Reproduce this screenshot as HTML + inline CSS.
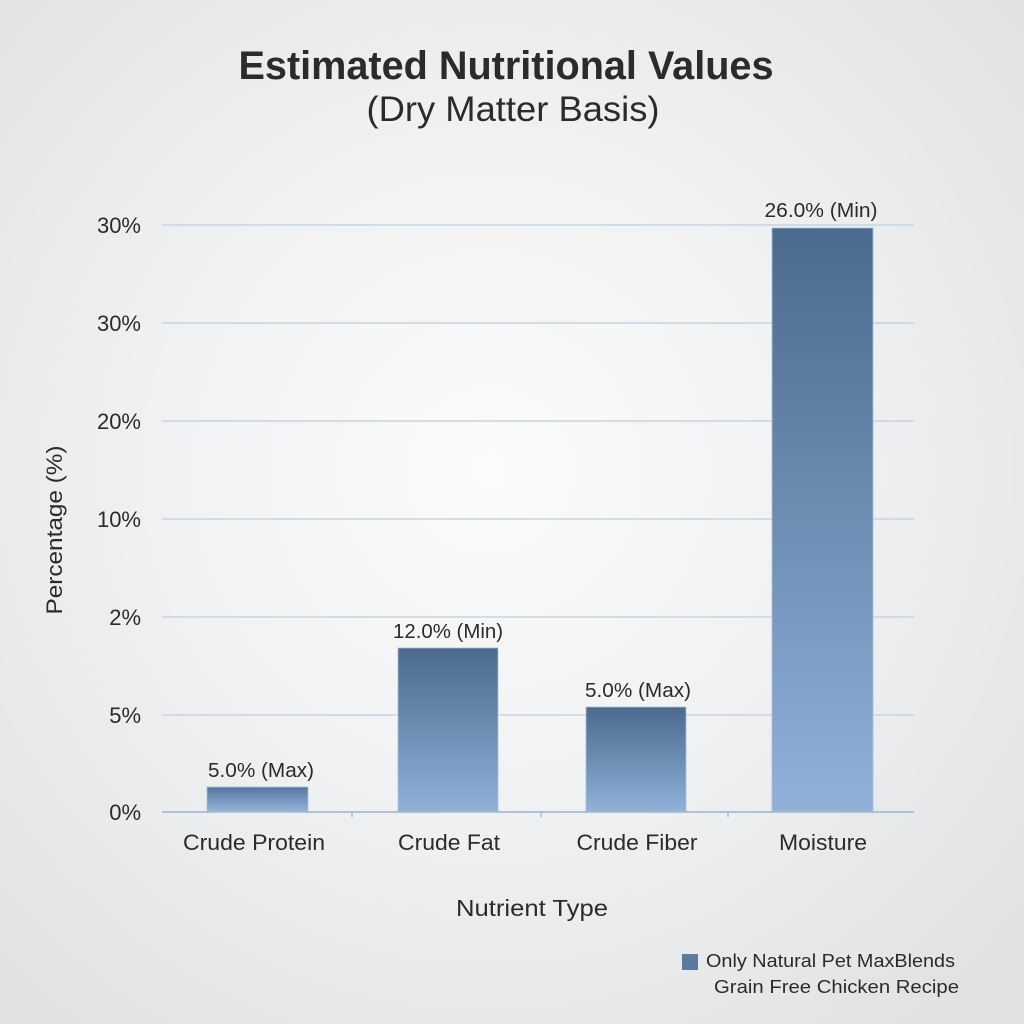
<!DOCTYPE html>
<html>
<head>
<meta charset="utf-8">
<style>
  html,body{margin:0;padding:0;}
  body{width:1024px;height:1024px;overflow:hidden;}
  svg{display:block;}
  text{font-family:"Liberation Sans", Arial, sans-serif;fill:#2b2b2b;}
</style>
</head>
<body>
<svg width="1024" height="1024" viewBox="0 0 1024 1024" xmlns="http://www.w3.org/2000/svg">
  <defs>
    <radialGradient id="bg" cx="490" cy="470" r="700" gradientUnits="userSpaceOnUse">
      <stop offset="0" stop-color="#fbfbfb"/>
      <stop offset="0.45" stop-color="#f1f2f3"/>
      <stop offset="1" stop-color="#e0e2e4"/>
    </radialGradient>
    <linearGradient id="bar" x1="0" y1="0" x2="0" y2="1">
      <stop offset="0" stop-color="#4a6a8e"/>
      <stop offset="1" stop-color="#90b2d8"/>
    </linearGradient>
    <linearGradient id="barS" x1="0" y1="0" x2="0" y2="1">
      <stop offset="0" stop-color="#55779e"/>
      <stop offset="1" stop-color="#94b5da"/>
    </linearGradient>
  </defs>
  <rect x="0" y="0" width="1024" height="1024" fill="url(#bg)"/>

  <!-- Title -->
  <text x="506" y="79" font-size="40" font-weight="bold" text-anchor="middle" textLength="535" lengthAdjust="spacingAndGlyphs" fill="#262626">Estimated Nutritional Values</text>
  <text x="513" y="121" font-size="35" text-anchor="middle" textLength="293" lengthAdjust="spacingAndGlyphs" fill="#2b2b2b">(Dry Matter Basis)</text>

  <!-- Gridlines -->
  <g stroke="#c8d4e1" stroke-width="1.5">
    <line x1="162" y1="225" x2="914" y2="225"/>
    <line x1="162" y1="323" x2="914" y2="323"/>
    <line x1="162" y1="421" x2="914" y2="421"/>
    <line x1="162" y1="519" x2="914" y2="519"/>
    <line x1="162" y1="617" x2="914" y2="617"/>
    <line x1="162" y1="715" x2="914" y2="715"/>
  </g>

  <!-- Y tick labels -->
  <g font-size="22" text-anchor="end">
    <text x="141" y="233">30%</text>
    <text x="141" y="331">30%</text>
    <text x="141" y="429">20%</text>
    <text x="141" y="527">10%</text>
    <text x="141" y="625">2%</text>
    <text x="141" y="723">5%</text>
    <text x="141" y="820">0%</text>
  </g>

  <!-- Y axis label -->
  <text transform="translate(62,530) rotate(-90)" font-size="22" text-anchor="middle" textLength="169" lengthAdjust="spacingAndGlyphs">Percentage (%)</text>

  <!-- Bars -->
  <rect x="207" y="787" width="101" height="25" fill="url(#barS)" stroke="#a9c0da" stroke-width="0.8"/>
  <rect x="398" y="648" width="100" height="164" fill="url(#bar)" stroke="#a9c0da" stroke-width="0.8"/>
  <rect x="586" y="707" width="100" height="105" fill="url(#bar)" stroke="#a9c0da" stroke-width="0.8"/>
  <rect x="772" y="228" width="101" height="584" fill="url(#bar)" stroke="#a9c0da" stroke-width="0.8"/>

  <!-- Baseline and ticks -->
  <line x1="162" y1="812" x2="914" y2="812" stroke="#a9bbd0" stroke-width="1.8"/>
  <g stroke="#a9bbd0" stroke-width="1.5">
    <line x1="352" y1="812" x2="352" y2="817"/>
    <line x1="541" y1="812" x2="541" y2="817"/>
    <line x1="728" y1="812" x2="728" y2="817"/>
  </g>

  <!-- Bar value labels -->
  <g font-size="20" text-anchor="middle">
    <text x="261" y="777" textLength="106" lengthAdjust="spacingAndGlyphs">5.0% (Max)</text>
    <text x="448" y="638" textLength="110" lengthAdjust="spacingAndGlyphs">12.0% (Min)</text>
    <text x="638" y="697" textLength="106" lengthAdjust="spacingAndGlyphs">5.0% (Max)</text>
    <text x="821" y="217" textLength="113" lengthAdjust="spacingAndGlyphs">26.0% (Min)</text>
  </g>

  <!-- Category labels -->
  <g font-size="22" text-anchor="middle">
    <text x="254" y="850" textLength="142" lengthAdjust="spacingAndGlyphs">Crude Protein</text>
    <text x="449" y="850" textLength="102" lengthAdjust="spacingAndGlyphs">Crude Fat</text>
    <text x="637" y="850" textLength="121" lengthAdjust="spacingAndGlyphs">Crude Fiber</text>
    <text x="823" y="850" textLength="88" lengthAdjust="spacingAndGlyphs">Moisture</text>
  </g>

  <!-- X axis title -->
  <text x="532" y="916" font-size="23" text-anchor="middle" textLength="152" lengthAdjust="spacingAndGlyphs">Nutrient Type</text>

  <!-- Legend -->
  <rect x="682" y="954" width="16" height="16" fill="#5a7aa0"/>
  <text x="706" y="967" font-size="18" textLength="249" lengthAdjust="spacingAndGlyphs">Only Natural Pet MaxBlends</text>
  <text x="714" y="993" font-size="18" textLength="245" lengthAdjust="spacingAndGlyphs">Grain Free Chicken Recipe</text>
</svg>
</body>
</html>
